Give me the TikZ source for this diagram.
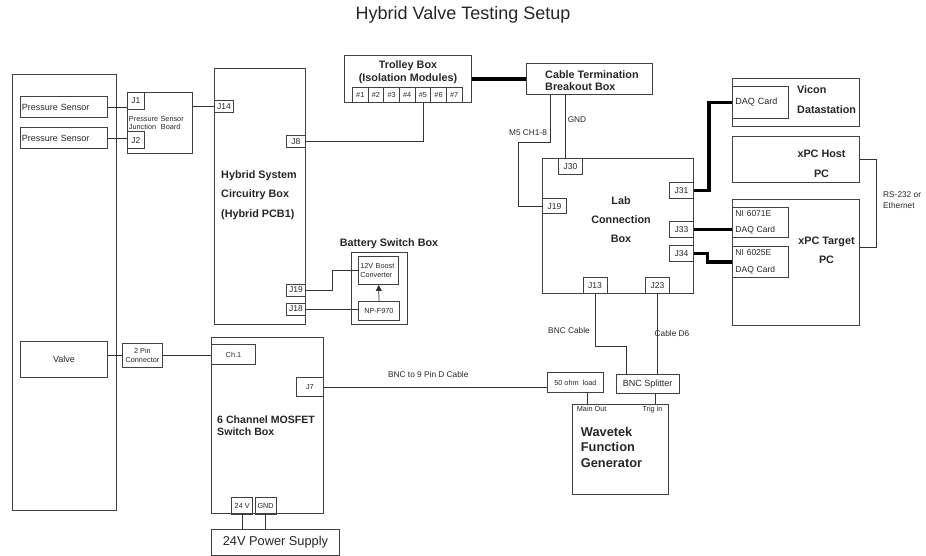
\documentclass[tikz,border=0pt]{standalone}
\usepackage{fontspec}
\setmainfont{Liberation Sans}
\usetikzlibrary{arrows.meta, positioning, calc}

\begin{document}
\begin{tikzpicture}[
  x=1pt, y=-1pt,
  box/.style={
    rectangle,
    draw=black!75,
    line width=0.9pt,
    inner sep=1pt,
    anchor=north west,
    align=center,
    text=black!85,
    font=\fontsize{9}{10.5}\selectfont
  },
  port/.style={
    box,
    font=\fontsize{8.5}{9.5}\selectfont
  },
  smalltext/.style={font=\fontsize{7.3}{8.7}\selectfont},
  boxtitle/.style={
    align=center,
    inner sep=0pt,
    text=black!85,
    font=\bfseries\fontsize{10.8}{12.6}\selectfont
  },
  note/.style={
    align=left,
    inner sep=0pt,
    text=black!85,
    font=\fontsize{8.3}{11.4}\selectfont
  },
  wire/.style={draw=black!80, line width=0.75pt},
  cable/.style={draw=black, line width=3.5pt},
  feed/.style={wire, -{Triangle[length=6pt, width=6pt]}}
]

\useasboundingbox (0,0) rectangle (926,556);

\node[text=black!85, font=\fontsize{18}{20}\selectfont] (title) at (463,15) {Hybrid Valve Testing Setup};

% ============================================================
% Left: test rig, sensors and valve
% ============================================================

\node[box, minimum width=104pt, minimum height=436pt] (rig) at (12,74) {};
\node[box, minimum width=87pt, minimum height=21pt, text width=84pt, align=left, inner xsep=1.5pt] (ps1) at (20,96) {Pressure Sensor};
\node[box, minimum width=87pt, minimum height=21pt, text width=84pt, align=left, inner xsep=1.5pt] (ps2) at (20,127) {Pressure Sensor};
\node[box, minimum width=87pt, minimum height=36pt] (valve) at (20,341) {Valve};

\node[box, smalltext, minimum width=65pt, minimum height=61pt, text width=62pt, align=left] (jb) at (127,92) {Pressure Sensor\\Junction\ \ Board};
\node[port, minimum width=17pt, minimum height=17pt] (j1) at (127,92) {J1};
\node[port, minimum width=17pt, minimum height=17pt] (j2) at (127,131.5) {J2};
\node[box, smalltext, minimum width=40pt, minimum height=24pt] (pin2) at (122,343) {2 Pin\\Connector};

% ============================================================
% Hybrid circuitry and battery
% ============================================================

\node[box, minimum width=91pt, minimum height=256pt] (hyb) at (214,68) {};
\node[boxtitle, align=left, anchor=west, font=\bfseries\fontsize{10.8}{19.5}\selectfont] (hybtxt) at (221,195) {Hybrid System\\Circuitry Box\\(Hybrid PCB1)};
\node[port, minimum width=19pt, minimum height=12pt] (j14) at (214,100) {J14};
\node[port, minimum width=19pt, minimum height=12pt] (j8) at (286,135) {J8};
\node[port, minimum width=19pt, minimum height=12pt] (j19) at (286,283.5) {J19};
\node[port, minimum width=19pt, minimum height=12pt] (j18) at (286,302.5) {J18};

\node[boxtitle] (battxt) at (389,244) {Battery Switch Box};
\node[box, minimum width=56pt, minimum height=71.5pt] (bat) at (351,252.3) {};
\node[box, smalltext, minimum width=40pt, minimum height=28pt, text width=37pt, align=left] (boost) at (358.3,256) {12V Boost\\Converter};
\node[box, smalltext, minimum width=41pt, minimum height=19pt] (np) at (358,301) {NP-F970};

% ============================================================
% MOSFET switch box and supply
% ============================================================

\node[box, minimum width=112pt, minimum height=175.5pt] (mosfet) at (211,337) {};
\node[boxtitle, align=left, anchor=west, font=\bfseries\fontsize{10.6}{12.3}\selectfont] (mosfettxt) at (217,426) {6 Channel MOSFET\\Switch Box};
\node[port, smalltext, minimum width=44pt, minimum height=20pt] (ch1) at (211,344) {Ch.1};
\node[port, smalltext, minimum width=27pt, minimum height=19pt] (j7) at (296,377) {J7};
\node[port, smalltext, minimum width=21pt, minimum height=17pt] (v24) at (231.3,497) {24 V};
\node[port, smalltext, minimum width=21pt, minimum height=17pt] (gnd) at (254.7,497) {GND};
\node[box, font=\fontsize{12.8}{14}\selectfont, minimum width=128pt, minimum height=26pt] (psu) at (211,529) {24V Power Supply};

% ============================================================
% Top: trolley and cable termination
% ============================================================

\node[box, minimum width=127pt, minimum height=47pt] (trolley) at (344,55) {};
\node[boxtitle] (trolleytxt) at (408,72) {Trolley Box\\(Isolation Modules)};
\foreach \i in {1,...,7}
  \node[port, smalltext, minimum width=15.65pt, minimum height=15.5pt, inner sep=0pt] (mod\i) at ({352+(\i-1)*15.65},86.7) {\#\i};

\node[box, minimum width=126pt, minimum height=31pt] (ctb) at (526,63) {};
\node[boxtitle, align=left, anchor=west] (ctbtxt) at (545,80.5) {Cable Termination\\Breakout Box};

% ============================================================
% Lab connection box
% ============================================================

\node[box, minimum width=151pt, minimum height=135pt] (lab) at (542,158) {};
\node[boxtitle, font=\bfseries\fontsize{10.8}{19}\selectfont] (labtxt) at (621,220) {Lab\\Connection\\Box};
\node[port, minimum width=24pt, minimum height=16pt] (l30) at (558,158) {J30};
\node[port, minimum width=24pt, minimum height=15.5pt] (l19) at (542,198) {J19};
\node[port, minimum width=24pt, minimum height=16pt] (l31) at (669,182) {J31};
\node[port, minimum width=24pt, minimum height=16pt] (l33) at (669,221) {J33};
\node[port, minimum width=24pt, minimum height=16pt] (l34) at (669,245) {J34};
\node[port, minimum width=24pt, minimum height=16pt] (l13) at (582.5,277) {J13};
\node[port, minimum width=24pt, minimum height=16pt] (l23) at (645,277) {J23};

% ============================================================
% Right: Vicon and xPC computers
% ============================================================

\node[box, minimum width=127pt, minimum height=48pt] (vicon) at (732,78) {};
\node[box, minimum width=56pt, minimum height=32pt, text width=50pt, align=left, inner xsep=3pt] (vdaq) at (732,86) {DAQ Card};
\node[boxtitle, align=left, anchor=west, font=\bfseries\fontsize{10.8}{20.7}\selectfont] (vicontxt) at (797,99.7) {Vicon\\Datastation};

\node[box, minimum width=127pt, minimum height=46pt] (host) at (732,136) {};
\node[boxtitle, font=\bfseries\fontsize{10.8}{20}\selectfont] (hosttxt) at (821.5,163.3) {xPC Host\\PC};

\node[box, minimum width=127pt, minimum height=126pt] (target) at (732,199) {};
\node[box, minimum width=56pt, minimum height=29.5pt, text width=50pt, align=left, inner xsep=3pt, font=\fontsize{8.5}{16}\selectfont] (ni71) at (732,207.3) {NI 6071E\\DAQ Card};
\node[box, minimum width=56pt, minimum height=31.6pt, text width=50pt, align=left, inner xsep=3pt, font=\fontsize{8.5}{17}\selectfont] (ni25) at (732,245.7) {NI 6025E\\DAQ Card};
\node[boxtitle, font=\bfseries\fontsize{10.8}{19}\selectfont] (targettxt) at (826.5,250.5) {xPC Target\\PC};

\node[note, anchor=west] (rsnote) at (883,200) {RS-232 or\\Ethernet};

% ============================================================
% Bottom: BNC parts and function generator
% ============================================================

\node[box, smalltext, minimum width=56.5pt, minimum height=19.5pt] (load) at (546.7,372.3) {50 ohm\ \ load};
\node[box, minimum width=63pt, minimum height=18.5pt] (split) at (615.7,374.3) {BNC Splitter};
\node[box, minimum width=95.4pt, minimum height=90pt] (wave) at (572.3,404) {};
\node[boxtitle, align=left, anchor=west, font=\bfseries\fontsize{12.8}{15.5}\selectfont] (wavetxt) at (580.7,447.3) {Wavetek\\Function\\Generator};
\node[note, smalltext] (mainout) at (591.7,409.3) {Main Out};
\node[note, smalltext] (trigin) at (652.5,409.3) {Trig in};

% wire labels
\node[note] (m5lbl) at (528,133) {M5 CH1-8};
\node[note] (gndlbl) at (577,120) {GND};
\node[note] (bnclbl) at (569,331) {BNC Cable};
\node[note] (d6lbl) at (672,334) {Cable D6};
\node[note] (dcablelbl) at (428.3,374.7) {BNC to 9 Pin D Cable};

% ============================================================
% Wiring
% ============================================================

\draw[wire] (ps1.east) -- (ps1.east -| j1.west);
\draw[wire] (ps2.east) -- (ps2.east -| j2.west);
\draw[wire] (jb.east |- j14.west) -- (j14.west);
\draw[wire] (mod5.south) |- (j8.east);
\draw[cable] (trolley.east) -- (ctb.west);

\draw[wire] ([xshift=24.3pt]ctb.south west) -- ++(0,47.4) -| ($(l19.west)+(-24,0)$) -- (l19.west);
\draw[wire] ([xshift=-5pt]l30.north) -- ([xshift=-5pt]l30.north |- ctb.south);

\draw[cable] (l31.east) -- ++(15.3,0) |- (vdaq.west);
\draw[cable] (l33.east) -- (l33.east -| ni71.west);
\draw[cable] (l34.east) -- ++(13.7,0) |- (ni25.west);
\draw[wire] (host.east) -- ++(16,0) |- ([yshift=15pt]target.east);

\draw[wire] (j19.east) -- ++(26.7,0) |- (boost.west);
\draw[wire] (j18.east) -- (j18.east -| np.west);
\draw[feed] (np.north) -- (boost.south);

\draw[wire] (pin2.west -| valve.east) -- (pin2.west);
\draw[wire] (pin2.east) -- (pin2.east -| ch1.west);
\draw[wire] (j7.east) -- (j7.east -| load.west);
\draw[wire] (v24.south) -- (v24.south |- psu.north);
\draw[wire] (gnd.south) -- (gnd.south |- psu.north);

\draw[wire] (l13.south) -- ++(0,52) -| ([xshift=-21pt]split.north);
\draw[wire] (l23.south) -- (l23.south |- split.north);
\draw[wire] ([xshift=12pt]load.south) -- ([xshift=12pt]load.south |- wave.north);
\draw[wire] ([xshift=7.5pt]split.south) -- ([xshift=7.5pt]split.south |- wave.north);

\end{tikzpicture}
\end{document}
